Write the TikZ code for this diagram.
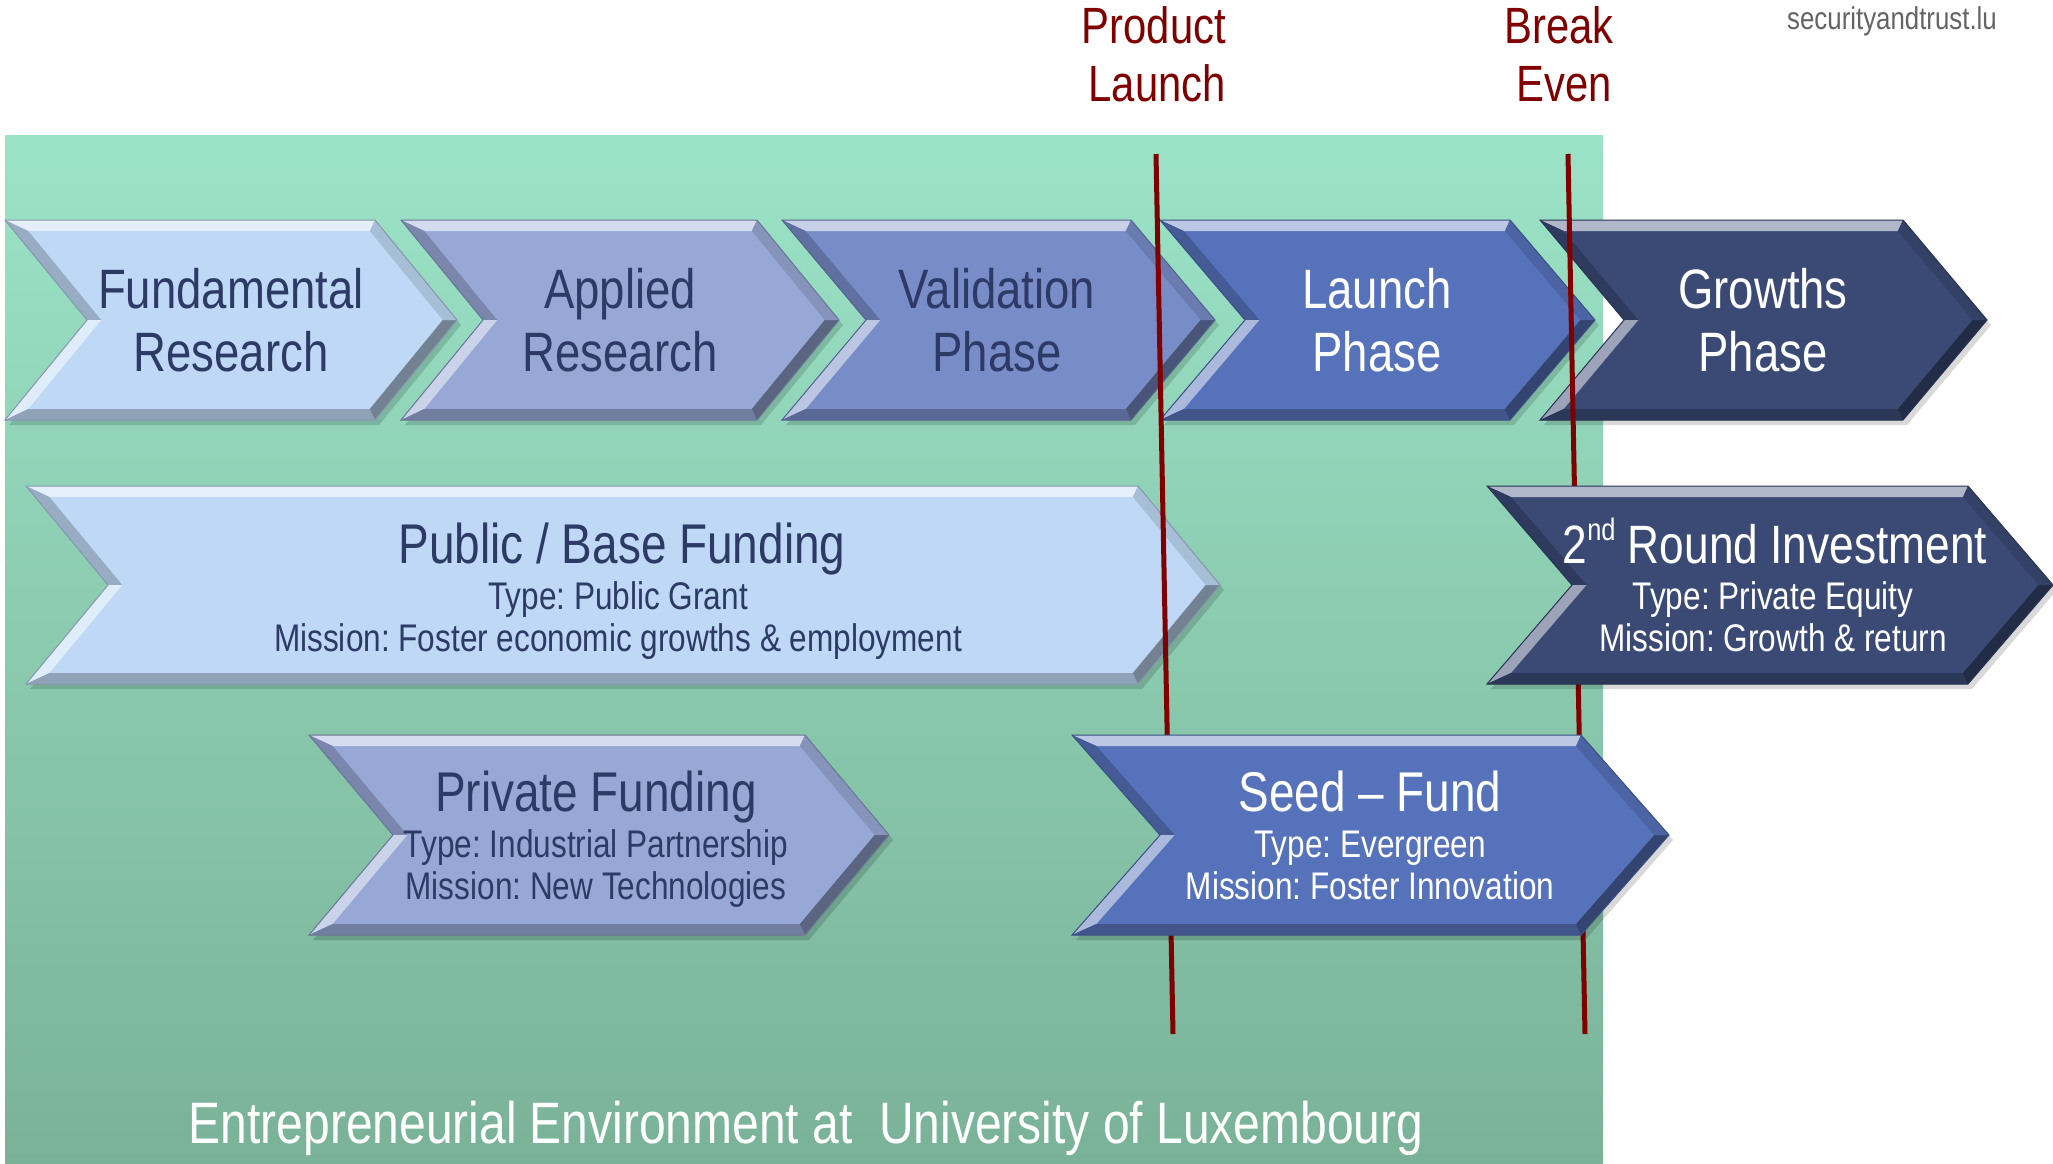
\documentclass[tikz,border=0pt]{standalone}
\usepackage{fontspec}
\setmainfont[FakeStretch=0.82]{Liberation Sans}
\usetikzlibrary{calc}
\frenchspacing
\definecolor{cA}{RGB}{190,216,245}
\definecolor{cB}{RGB}{152,168,214}
\definecolor{cC}{RGB}{120,140,200}
\definecolor{cD}{RGB}{86,114,186}
\definecolor{cE}{RGB}{58,74,117}
\definecolor{navy}{RGB}{46,58,102}
\definecolor{mlred}{RGB}{128,0,0}
\definecolor{bgtop}{RGB}{155,227,199}
\definecolor{bgmid}{RGB}{145,210,182}
\definecolor{bgbot}{RGB}{122,178,152}
\definecolor{wmgray}{RGB}{100,100,100}
\newcommand{\chev}[6]{%
  \pgfmathsetmacro{\chY}{(#3+#4)/2}%
  \pgfmathsetmacro{\chH}{(#4-#3)/2}%
  \pgfmathsetmacro{\chB}{11}%
  \pgfmathsetmacro{\chL}{10*sqrt(((#5)/10)*((#5)/10)+(\chH/10)*(\chH/10))}%
  \pgfmathsetmacro{\chS}{\chB*\chL/\chH}%
  \pgfmathsetmacro{\chT}{\chB*(#5)/\chH}%
  \coordinate (pA) at (#1,#3);
  \coordinate (pB) at (#2,#3);
  \coordinate (pC) at (#2+#5,\chY);
  \coordinate (pD) at (#2,#4);
  \coordinate (pE) at (#1,#4);
  \coordinate (pF) at (#1+#5,\chY);
  \coordinate (qA) at (#1+\chS+\chT,#3+\chB);
  \coordinate (qB) at (#2-\chS+\chT,#3+\chB);
  \coordinate (qC) at (#2+#5-\chS,\chY);
  \coordinate (qD) at (#2-\chS+\chT,#4-\chB);
  \coordinate (qE) at (#1+\chS+\chT,#4-\chB);
  \coordinate (qF) at (#1+#5+\chS,\chY);
  \fill[black,opacity=0.15] ($(pA)+(4,5)$)--($(pB)+(4,5)$)--($(pC)+(4,5)$)--($(pD)+(4,5)$)--($(pE)+(4,5)$)--($(pF)+(4,5)$)--cycle;
  \fill[#6] (pA)--(pB)--(pC)--(pD)--(pE)--(pF)--cycle;
  \fill[#6!40!white] (pA)--(pB)--(qB)--(qA)--cycle;
  \fill[#6!80!black] (pA)--(qA)--(qF)--(pF)--cycle;
  \fill[#6!50!white] (pF)--(qF)--(qE)--(pE)--cycle;
  \fill[#6!75!black] (pE)--(qE)--(qD)--(pD)--cycle;
  \fill[#6!60!black] (pD)--(qD)--(qC)--(pC)--cycle;
  \fill[#6!88!black] (pB)--(qB)--(qC)--(pC)--cycle;
  \draw[#6!70!black,line width=1pt] (pA)--(pB)--(pC)--(pD)--(pE)--(pF)--cycle;
}
\tikzset{
  lbl/.style={anchor=base,inner sep=0pt},
  bigtxt/.style={lbl,font=\fontsize{55.5}{60}\selectfont},
  ttltxt/.style={lbl,font=\fontsize{56}{60}\selectfont},
  subtxt/.style={lbl,font=\fontsize{38.5}{42}\selectfont},
  marktxt/.style={anchor=base east,inner sep=0pt,text=mlred,font=\fontsize{51}{56}\selectfont},
  redline/.style={mlred,line width=5pt},
}
\begin{document}
\begin{tikzpicture}[x=1pt,y=-1pt]
\useasboundingbox (0,0) rectangle (2053,1164);
\fill[white] (0,0) rectangle (2053,1164);
\shade[top color=bgtop,middle color=bgmid,bottom color=bgbot] (5,135) rectangle (1603,1164);
% row 1
\chev{5}{375}{220}{420}{82}{cA}
\chev{401}{757}{220}{420}{82}{cB}
\chev{782}{1131}{220}{420}{84}{cC}
\chev{1160}{1510}{220}{420}{85}{cD}
\chev{1540}{1903}{220}{420}{84}{cE}
% row 2 / 3 left
\chev{26}{1138}{486}{684}{82}{cA}
\chev{309}{805}{735}{935}{84}{cB}
% milestone lines
\coordinate (plTop) at (1156,154);
\coordinate (plBot) at (1173,1034);
\coordinate (beTop) at (1568,154);
\coordinate (beBot) at (1585,1034);
\draw[redline] (plTop) -- (plBot);
\draw[redline] (beTop) -- (beBot);
% right boxes
\chev{1487}{1968}{486}{684}{85}{cE}
\chev{1072}{1581}{735}{935}{88}{cD}
% row 1 texts
\node[bigtxt,text=navy] (fr1) at (231,308) {Fundamental};
\node[bigtxt,text=navy] (fr2) at (231,371) {Research};
\node[bigtxt,text=navy] (ar1) at (620,308) {Applied};
\node[bigtxt,text=navy] (ar2) at (620,371) {Research};
\node[bigtxt,text=navy] (vp1) at (997,308) {Validation};
\node[bigtxt,text=navy] (vp2) at (997,371) {Phase};
\node[bigtxt,text=white] (lp1) at (1377,308) {Launch};
\node[bigtxt,text=white] (lp2) at (1377,371) {Phase};
\node[bigtxt,text=white] (gp1) at (1763,308) {Growths};
\node[bigtxt,text=white] (gp2) at (1763,371) {Phase};
% funding texts
\node[ttltxt,text=navy] (pb1) at (622,563) {Public / Base Funding};
\node[subtxt,text=navy] (pb2) at (618,609) {Type: Public Grant};
\node[subtxt,text=navy] (pb3) at (618,651) {Mission: Foster economic growths \& employment};
\node[lbl,text=white,font=\fontsize{54}{60}\selectfont] (ri1) at (1775,563) {2\raisebox{0.42em}{\fontsize{31}{31}\selectfont nd} Round Investment};
\node[subtxt,text=white] (ri2) at (1773,609) {Type: Private Equity};
\node[subtxt,text=white] (ri3) at (1773,651) {Mission: Growth \& return};
\node[ttltxt,text=navy] (pf1) at (596,811) {Private Funding};
\node[subtxt,text=navy] (pf2) at (596,857) {Type: Industrial Partnership};
\node[subtxt,text=navy] (pf3) at (596,899) {Mission: New Technologies};
\node[ttltxt,text=white] (sf1) at (1370,811) {Seed – Fund};
\node[subtxt,text=white] (sf2) at (1370,857) {Type: Evergreen};
\node[subtxt,text=white] (sf3) at (1370,899) {Mission: Foster Innovation};
% milestones labels
\node[marktxt] (pl1) at (1226,44) {Product};
\node[marktxt] (pl2) at (1226,101) {Launch};
\node[marktxt] (be1) at (1614,44) {Break};
\node[marktxt] (be2) at (1612,101) {Even};
\node[anchor=base west,inner sep=0pt,text=wmgray,font=\fontsize{31.5}{36}\selectfont] (wm) at (1787,30) {securityandtrust.lu};
\node[lbl,text=white,font=\fontsize{58.5}{64}\selectfont] (env) at (806,1143) {Entrepreneurial Environment at~ University of Luxembourg};
\end{tikzpicture}
\end{document}
